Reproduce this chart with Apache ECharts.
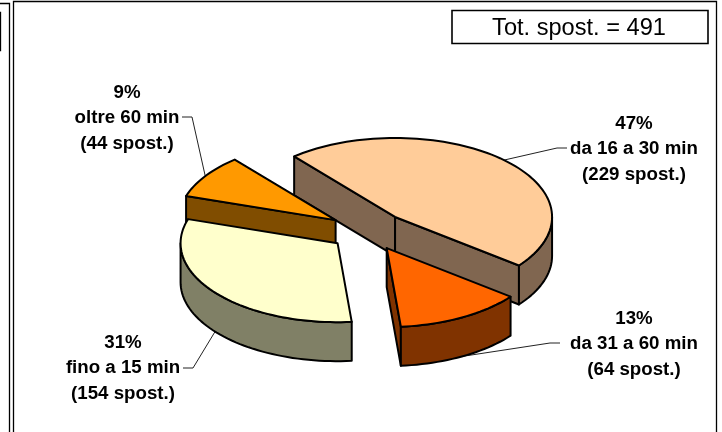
<!DOCTYPE html>
<html><head><meta charset="utf-8">
<style>html,body{margin:0;padding:0;background:#fff}#c{width:722px;height:432px}</style>
<script src="https://cdn.jsdelivr.net/npm/echarts@6/dist/echarts.min.js"></script>
</head><body><div id="c"></div>
<script>
var categories = ['da 16 a 30 min', 'da 31 a 60 min', 'fino a 15 min', 'oltre 60 min'];
var spostamenti = [229, 64, 154, 44];
var percent = [47, 13, 31, 9];
var totalLabel = 'Tot. spost. = 491';
var topColors = ['#FFCC99', '#FF6600', '#FFFFCC', '#FF9900'];
var wallColors = ['#806650', '#803300', '#808066', '#804D00'];

// layout of the projected pie
var CX = 368, CY = 231, RX = 157, RY = 79, DEPTH = 39, EXPLODE = 39, START = -40;
var labelAt = [[634, 149], [634, 344], [123, 368], [127, 118]];
var elbowAt = [[[557, 148], [567, 148]], [[550, 343], [560, 343]], [[193, 368], [183, 368]], [[192, 117], [182, 117]]];

var total = spostamenti.reduce(function (a, b) { return a + b; }, 0);
var rad = Math.PI / 180;
function ell(c, a, d) { return [c[0] + RX * Math.sin(a * rad), c[1] - RY * Math.cos(a * rad) + (d || 0)]; }
function arc(c, a0, a1, d) {
  var pts = [], n = Math.max(2, Math.ceil(Math.abs(a1 - a0) / 2));
  for (var i = 0; i <= n; i++) pts.push(ell(c, a0 + (a1 - a0) * i / n, d));
  return pts;
}
function poly(points, fill, z) {
  return { type: 'polygon', z2: z, shape: { points: points },
    style: { fill: fill, stroke: '#000', lineWidth: 2, lineJoin: 'round' } };
}
function renderSlice(params, api) {
  var i = params.dataIndex, v = api.value(0), before = 0;
  for (var k = 0; k < i; k++) before += spostamenti[k];
  var a0 = START + before / total * 360, a1 = a0 + v / total * 360, mid = (a0 + a1) / 2;
  var c = [CX + EXPLODE * Math.sin(mid * rad), CY - EXPLODE * 0.5 * Math.cos(mid * rad)];
  var z = Math.round(c[1]) * 10, kids = [], wall = wallColors[i];
  function below(p) { return [p[0], p[1] + DEPTH]; }
  function radial(a) {
    var e = ell(c, a);
    kids.push(poly([c, e, below(e), below(c)], wall, z));
  }
  if (Math.sin(a0 * rad) < 0) radial(a0);
  if (Math.sin(a1 * rad) > 0) radial(a1);
  var r0 = Math.max(a0, 90), r1 = Math.min(a1, 270);
  if (r1 > r0) {
    kids.push(poly(arc(c, r0, r1).concat(arc(c, r1, r0, DEPTH)), wall, z + 1));
  }
  kids.push(poly([c].concat(arc(c, a0, a1)), topColors[i], z + 2));
  // leader line, from the rim at the middle of the slice
  var front = Math.cos(mid * rad) < 0;
  kids.push({ type: 'polyline', z2: 1, shape: { points: [ell(c, mid, front ? DEPTH : 0)].concat(elbowAt[i]) },
    style: { fill: null, stroke: '#222', lineWidth: 1 } });
  kids.push({ type: 'text', z2: 5000, x: labelAt[i][0], y: labelAt[i][1],
    style: { text: percent[i] + '%\n' + categories[i] + '\n(' + v + ' spost.)',
      fill: '#000', align: 'center', verticalAlign: 'middle', lineHeight: 25.5,
      font: 'bold 18.7px "Liberation Sans", Arial, sans-serif' } });
  return { type: 'group', children: kids };
}
var frameLines = [
  [[13.5, 432], [13.5, 1.5], [716.5, 1.5], [716.5, 432]],
  [[0, 3.5], [9.5, 3.5], [9.5, 432]],
  [[0, 12.5], [0.5, 12.5], [0.5, 50.5], [0, 50.5]]
];
var chart = echarts.init(document.getElementById('c'), null, { renderer: 'canvas' });
chart.setOption({
  animation: false,
  backgroundColor: '#fff',
  graphic: frameLines.map(function (p) {
    return { type: 'polyline', silent: true, shape: { points: p }, style: { fill: null, stroke: '#000', lineWidth: 1.3 } };
  }).concat([
    { type: 'rect', shape: { x: 452, y: 10.5, width: 256, height: 33 }, style: { fill: '#fff', stroke: '#000', lineWidth: 1.6 } },
    { type: 'text', x: 579, y: 28, style: { text: totalLabel, fill: '#000', align: 'center', verticalAlign: 'middle', font: '23.6px "Liberation Sans", Arial, sans-serif' } }
  ]),
  series: [{
    type: 'custom', coordinateSystem: 'none', silent: true,
    dimensions: ['spostamenti'],
    data: spostamenti.map(function (v, i) { return { name: categories[i], value: [v] }; }),
    renderItem: renderSlice
  }]
});
</script></body></html>
